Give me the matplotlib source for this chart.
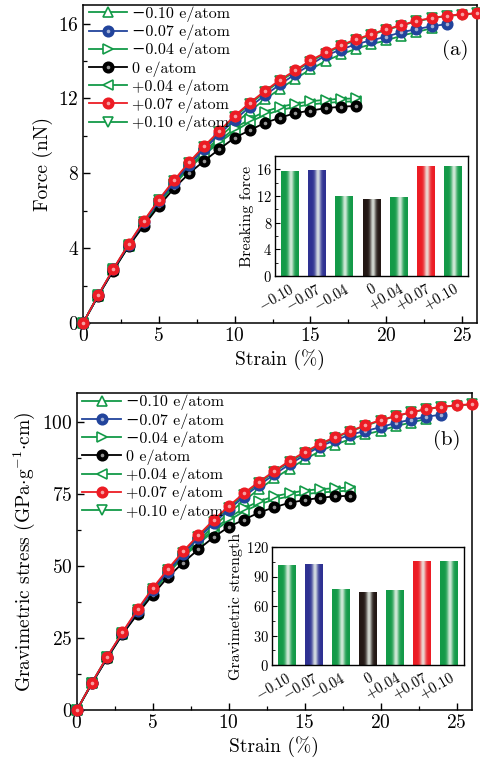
import numpy as np
import matplotlib
matplotlib.use("Agg")
import matplotlib.pyplot as plt
from matplotlib.legend_handler import HandlerTuple
from matplotlib.ticker import MultipleLocator

plt.rcParams['font.family'] = ['cmr10', 'DejaVu Serif']
plt.rcParams['mathtext.fontset'] = 'cm'
plt.rcParams['axes.formatter.use_mathtext'] = True
plt.rcParams['axes.unicode_minus'] = True

# ---------------- data ----------------
doping_labels = ['\u22120.10 e/atom', '\u22120.07 e/atom', '\u22120.04 e/atom', '0 e/atom',
                 '+0.04 e/atom', '+0.07 e/atom', '+0.10 e/atom']
bar_labels = ['$-$0.10', '$-$0.07', '$-$0.04', '0', '+0.04', '+0.07', '+0.10']

# panel (a) force (nN) vs strain (%), strain starts at 0 step 1
force_m010 = [0, 1.47, 2.85, 4.13, 5.33, 6.42, 7.4, 8.32, 9.15, 9.93, 10.65, 11.32, 11.95,
              12.52, 13.05, 13.55, 14.0, 14.35, 14.65, 14.9, 15.1, 15.35, 15.55, 15.75]
force_m007 = [0, 1.48, 2.87, 4.17, 5.38, 6.5, 7.5, 8.45, 9.3, 10.1, 10.85, 11.55, 12.17,
              12.75, 13.3, 13.8, 14.3, 14.6, 14.9, 15.1, 15.3, 15.54, 15.7, 15.86, 15.97]
force_m004 = [0, 1.47, 2.85, 4.12, 5.3, 6.42, 7.45, 8.35, 9.1, 9.75, 10.4, 10.9, 11.3,
              11.55, 11.72, 11.85, 11.93, 11.98, 12.0]
force_0 = [0, 1.45, 2.8, 4.1, 5.2, 6.25, 7.2, 8.0, 8.67, 9.3, 9.9, 10.3, 10.7, 10.97,
           11.22, 11.35, 11.48, 11.56, 11.6]
force_p004 = [0, 1.47, 2.84, 4.1, 5.27, 6.37, 7.38, 8.27, 9.0, 9.65, 10.25, 10.75, 11.12,
              11.38, 11.55, 11.68, 11.76, 11.82, 11.85]
force_p007 = [0, 1.5, 2.9, 4.22, 5.45, 6.6, 7.63, 8.6, 9.46, 10.27, 11.07, 11.77, 12.4,
              13.0, 13.5, 14.03, 14.46, 14.84, 15.16, 15.43, 15.7, 15.92, 16.15, 16.3,
              16.42, 16.5, 16.56]
force_p010 = [0, 1.49, 2.88, 4.19, 5.42, 6.56, 7.58, 8.55, 9.4, 10.2, 11.0, 11.7, 12.33,
              12.93, 13.44, 13.97, 14.4, 14.79, 15.11, 15.39, 15.66, 15.89, 16.12, 16.28,
              16.4, 16.48, 16.54]

# panel (b) gravimetric stress (GPa g^-1 cm)
stress_m010 = [0, 9.4, 18.3, 26.5, 34.2, 41.2, 47.5, 53.4, 58.8, 63.8, 68.4, 72.7, 76.7,
               80.4, 83.8, 87.0, 89.9, 92.1, 94.1, 95.7, 97.0, 98.6, 99.8, 101.1]
stress_m007 = [0, 9.5, 18.4, 26.8, 34.5, 41.7, 48.1, 54.2, 59.7, 64.8, 69.6, 74.1, 78.1,
               81.8, 85.3, 88.5, 91.5, 93.7, 95.6, 96.9, 98.2, 99.7, 100.8, 101.8, 102.6]
stress_m004 = [0, 9.4, 18.3, 26.5, 34.0, 41.2, 47.8, 53.6, 58.4, 62.6, 66.8, 70.0, 72.5,
               74.2, 75.3, 76.2, 76.7, 77.0, 77.3]
stress_0 = [0, 9.3, 18.0, 26.3, 33.4, 40.1, 46.2, 51.2, 55.8, 60.0, 63.6, 66.1, 68.6,
            70.4, 72.0, 72.9, 73.7, 74.2, 74.4]
stress_p004 = [0, 9.4, 18.2, 26.3, 33.8, 40.9, 47.4, 53.1, 57.8, 62.0, 65.8, 69.0, 71.4,
               73.1, 74.2, 75.0, 75.5, 75.9, 76.2]
stress_p007 = [0, 9.6, 18.6, 27.0, 35.0, 42.4, 49.0, 55.2, 60.7, 66.0, 70.8, 75.3, 79.3,
               83.0, 86.5, 89.6, 92.4, 94.8, 96.9, 98.9, 100.7, 102.1, 103.4, 104.5,
               105.3, 105.8, 106.2]
stress_p010 = [0, 9.6, 18.5, 26.8, 34.7, 42.0, 48.5, 54.6, 60.2, 65.4, 70.3, 74.8, 78.8,
               82.7, 86.1, 89.2, 92.1, 94.5, 96.7, 98.7, 100.5, 102.0, 103.3, 104.4,
               105.2, 105.7, 106.1]

breaking_force = [15.8, 15.95, 12.0, 11.55, 11.85, 16.5, 16.5]
grav_strength = [101.4, 102.7, 77.5, 74.5, 76.5, 105.5, 105.5]

# ---------------- styles ----------------
GREEN = '#139a48'
BLUE = '#22449c'
BLACK = '#000000'
RED = '#ec1c24'
series_style = [
    dict(color=GREEN, marker='^', mfc='white', mec=GREEN, filled=False),
    dict(color=BLUE, marker='o', mfc=BLUE, mec=BLUE, filled=True),
    dict(color=GREEN, marker='>', mfc='white', mec=GREEN, filled=False),
    dict(color=BLACK, marker='o', mfc=BLACK, mec=BLACK, filled=True),
    dict(color=GREEN, marker='<', mfc='white', mec=GREEN, filled=False),
    dict(color=RED, marker='o', mfc=RED, mec=RED, filled=True),
    dict(color=GREEN, marker='v', mfc='white', mec=GREEN, filled=False),
]
bar_colors = [GREEN, '#2e3192', GREEN, '#231815', GREEN, RED, GREEN]

fig = plt.figure(figsize=(4.8, 7.62), dpi=100)


def style_axes(ax, lw=1.1):
    for s in ax.spines.values():
        s.set_linewidth(lw)
    ax.tick_params(which='both', direction='in', top=False, right=False)


def lighten(c, f):
    rgb = np.array(matplotlib.colors.to_rgb(c))
    return tuple(rgb + (1 - rgb) * f)


def main_panel(ax, series, ylim, ymaj, ymin, ylabel, tag):
    order = [6, 0, 4, 2, 3, 1, 5]  # drawing order: red last on top
    handles = [None] * 7
    for k, i in enumerate(order):
        y = series[i]
        x = np.arange(len(y))
        st = series_style[i]
        ms = 7.5 if st['filled'] else 6.5
        ln, = ax.plot(x, y, color=st['color'], lw=1.3, marker=st['marker'], ms=ms,
                      mfc=st['mfc'], mec=st['mec'], mew=1.2, clip_on=False, zorder=3 + k * 0.1)
        if st['filled']:
            hl, = ax.plot(x, y, ls='none', marker='o', ms=2.6, mfc=lighten(st['color'], 0.65),
                          mec='none', alpha=0.9, clip_on=False, zorder=3.05 + k * 0.1)
            handles[i] = (ln, hl)
        else:
            handles[i] = (ln,)
    ax.set_xlim(0, 26)
    ax.set_ylim(*ylim)
    ax.xaxis.set_major_locator(MultipleLocator(5))
    ax.xaxis.set_minor_locator(MultipleLocator(2.5))
    ax.yaxis.set_major_locator(MultipleLocator(ymaj))
    ax.yaxis.set_minor_locator(MultipleLocator(ymin))
    ax.tick_params(which='major', length=5, width=1, labelsize=14, pad=3)
    ax.tick_params(which='minor', length=3, width=0.9)
    ax.set_xlabel('Strain (%)', fontsize=14, labelpad=3)
    ax.set_ylabel(ylabel, fontsize=14, labelpad=4)
    style_axes(ax)
    ax.legend(handles, doping_labels, loc='upper left', bbox_to_anchor=(-0.01, 1.025),
              frameon=False, fontsize=11.5, handlelength=2.4, handletextpad=0.3,
              labelspacing=0.17, borderaxespad=0.2,
              handler_map={tuple: HandlerTuple(ndivide=1)})
    ax.text(tag[1], tag[2], tag[0], transform=ax.transAxes, fontsize=15,
            ha='center', va='center')


def gradient_bars(ax, heights, ylim, ymaj, ymin, ylabel):
    xs = np.arange(len(heights))
    w = 0.66
    bars = ax.bar(xs, heights, width=w, color='none', edgecolor='none')
    t = np.linspace(0, 1, 64)
    wt = np.exp(-((t - 0.56) / 0.16) ** 2) * 0.88
    for rect, h, c in zip(bars, heights, bar_colors):
        rgb = np.array(matplotlib.colors.to_rgb(c))
        grad = rgb[None, :] * (1 - wt[:, None]) + np.array([0.93, 0.96, 0.93])[None, :] * wt[:, None]
        img = ax.imshow(grad[None, :, :], extent=[rect.get_x(), rect.get_x() + w, 0, h],
                        aspect='auto', interpolation='bilinear', zorder=2)
        img.set_clip_path(rect)
    ax.set_xlim(-0.55, 6.55)
    ax.set_ylim(*ylim)
    ax.set_xticks(xs)
    ax.set_xticklabels(bar_labels, rotation=30, ha='right', rotation_mode='anchor')
    ax.yaxis.set_major_locator(MultipleLocator(ymaj))
    ax.yaxis.set_minor_locator(MultipleLocator(ymin))
    ax.tick_params(axis='x', which='both', length=0, labelsize=10.5, pad=4)
    ax.tick_params(axis='y', which='major', length=3.5, labelsize=10.5, pad=2)
    ax.tick_params(axis='y', which='minor', length=2)
    ax.set_ylabel(ylabel, fontsize=11.5, labelpad=2)
    style_axes(ax, 1.0)


# panel (a)
axa = fig.add_axes([0.173, 0.576, 0.821, 0.4176])
main_panel(axa, [force_m010, force_m007, force_m004, force_0, force_p004, force_p007, force_p010],
           (0, 17), 4, 2, 'Force (nN)', ('(a)', 0.944, 0.858))
insa = fig.add_axes([275 / 480, 1 - 276 / 762, 193 / 480, 120 / 762])
gradient_bars(insa, breaking_force, (0, 18), 4, 2, 'Breaking force')

# panel (b)
axb = fig.add_axes([0.160, 0.068, 0.823, 0.416])
main_panel(axb, [stress_m010, stress_m007, stress_m004, stress_0, stress_p004, stress_p007, stress_p010],
           (0, 110), 25, 12.5, r'Gravimetric stress (GPa$\cdot$g$^{-1}$$\cdot$cm)', ('(b)', 0.937, 0.852))
insb = fig.add_axes([272 / 480, 1 - 665 / 762, 192 / 480, 118 / 762])
gradient_bars(insb, grav_strength, (0, 120), 30, 15, 'Gravimetric strength')

fig.savefig('out.png', dpi=100)
